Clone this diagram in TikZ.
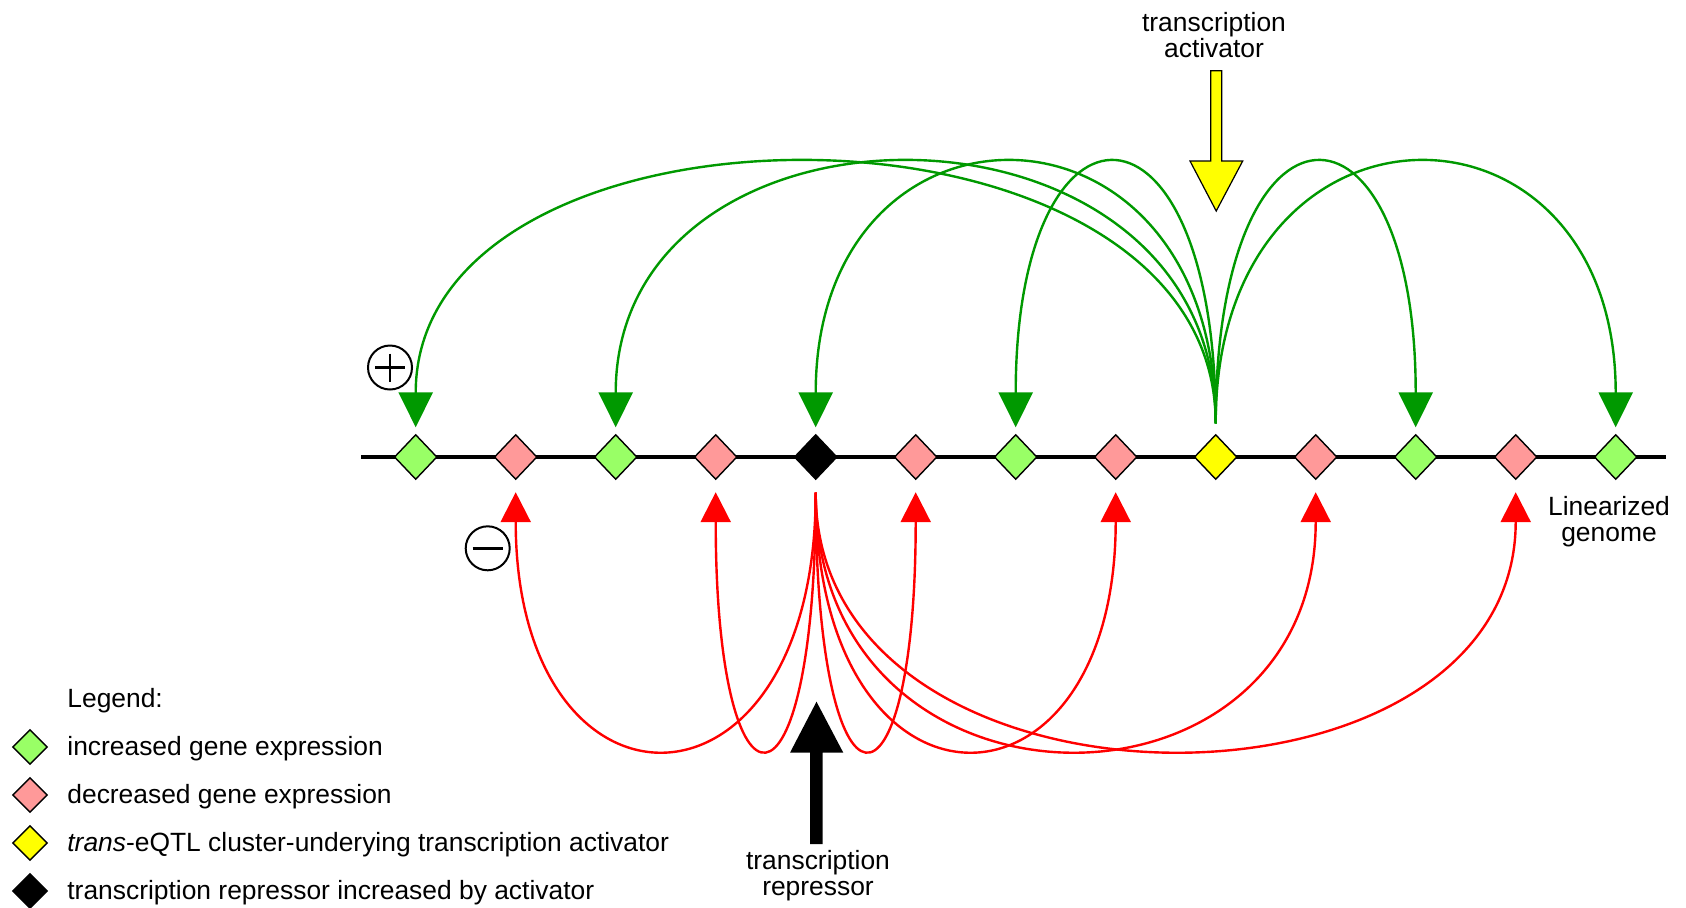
\documentclass[tikz,border=0pt]{standalone}
\usepackage{fontspec}
\setmainfont{Liberation Sans}
\usetikzlibrary{shapes.geometric,arrows.meta,calc}
\definecolor{lgreen}{HTML}{99FF66}
\definecolor{lpink}{HTML}{FF9999}
\definecolor{yel}{HTML}{FFFF00}
\definecolor{dgreen}{HTML}{009900}
\definecolor{rred}{HTML}{FF0000}
\tikzset{
  gene/.style={diamond,draw=black,line width=0.7pt,inner sep=0pt,minimum width=21.4pt,minimum height=22.5pt},
  lgene/.style={diamond,draw=black,line width=0.7pt,inner sep=0pt,minimum width=17.5pt,minimum height=17.5pt},
  lbl/.style={font=\fontsize{13.2}{14}\selectfont,inner sep=0pt,anchor=base},
  gcurve/.style={draw=dgreen,line width=1.2pt,-{Triangle[length=17.5pt,width=17pt]}},
  rcurve/.style={draw=rred,line width=1.2pt,-{Triangle[length=15pt,width=15pt]}},
  genome/.style={line width=2pt,draw=black},
  sign/.style={circle,draw=black,line width=1pt,minimum size=22pt,inner sep=0pt},
}
\begin{document}
\begin{tikzpicture}[x=0.5pt,y=-0.5pt]
\useasboundingbox[fill=white] (0,0) rectangle (1686,907);
% genome
\coordinate (gl) at (361,457);
\coordinate (gr) at (1666,457);
\draw[genome] (gl) -- (gr);
\foreach \k/\c in {0/lgreen,1/lpink,2/lgreen,3/lpink,4/black,5/lpink,6/lgreen,7/lpink,8/yel,9/lpink,10/lgreen,11/lpink,12/lgreen}{
  \node[gene,fill=\c] (d\k) at ({415.7+100*\k},457) {};
}
% sources
\coordinate (ysrc) at ($(d8.north)+(0,-10.5)$);
\coordinate (bsrc) at ($(d4.south)+(0,12.5)$);
% green curves
\foreach \k in {0,2,4,6,10,12}{
  \draw[gcurve] (ysrc) .. controls +(0,-346) and +(0,-350) .. ($(d\k.north)+(0,-6.5)$);
}
% red curves
\foreach \k in {1,3,5,7,9,11}{
  \draw[rcurve] (bsrc) .. controls +(0,342) and +(0,342) .. ($(d\k.south)+(0,12)$);
}
% yellow big arrow
\draw[fill=yel,draw=black,line width=0.6pt]
  (1210.7,70.7) -- (1221.7,70.7) -- (1221.7,161) -- (1242.7,161) -- (1216.2,211)
  -- (1190,161) -- (1210.7,161) -- cycle;
% black big arrow
\fill[black]
  (810,844) -- (822.7,844) -- (822.7,752.7) -- (843.3,752.7) -- (816.5,701.7)
  -- (790,752.7) -- (810,752.7) -- cycle;
% plus / minus
\node[sign] (plus) at (390,367.5) {};
\draw[line width=1.3pt] ($(plus.center)+(-15,0)$) -- ($(plus.center)+(15,0)$);
\draw[line width=1.3pt] ($(plus.center)+(0,-14)$) -- ($(plus.center)+(0,14)$);
\node[sign] (minus) at (487.7,548.3) {};
\draw[line width=1.8pt] ($(minus.center)+(-15,0)$) -- ($(minus.center)+(15,0)$);
% labels
\node[lbl] (act1) at (1214,31) {transcription};
\node[lbl] (act2) at (1214,57) {activator};
\node[lbl] (rep1) at (818,869) {transcription};
\node[lbl] (rep2) at (818,895) {repressor};
\node[lbl] (lin1) at (1609,515) {Linearized};
\node[lbl] (lin2) at (1609,541) {genome};
% legend
\node[lbl,anchor=base west] (leg) at (67,707) {Legend:};
\node[lgene,fill=lgreen] (l1) at (30,747) {};
\node[lbl,anchor=base west] (t1) at (67,755) {increased gene expression};
\node[lgene,fill=lpink] (l2) at (30,795) {};
\node[lbl,anchor=base west] (t2) at (67,803) {decreased gene expression};
\node[lgene,fill=yel] (l3) at (30,843) {};
\node[lbl,anchor=base west] (t3) at (67,851.5) {\textit{trans}-eQTL cluster-underying transcription activator};
\node[lgene,fill=black] (l4) at (30,891) {};
\node[lbl,anchor=base west] (t4) at (67,899) {transcription repressor increased by activator};
\end{tikzpicture}
\end{document}
